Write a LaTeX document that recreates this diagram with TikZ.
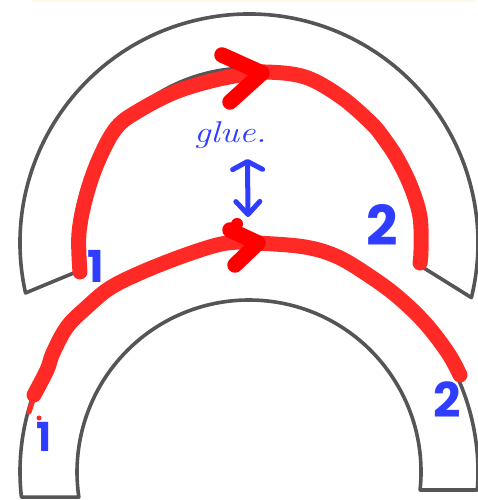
\documentclass[tikz,border=0pt]{standalone}
\usepackage{fontspec}
\usepackage{graphicx}
\usetikzlibrary{arrows.meta,calc}
\newfontfamily\numfont{Poppins}
\definecolor{archgray}{HTML}{555555}
\definecolor{inkred}{HTML}{FF2A25}
\definecolor{headred}{HTML}{FF0000}
\definecolor{inkblue}{HTML}{2E3DFF}
\definecolor{faintline}{HTML}{FFF9E6}
\begin{document}
\begin{tikzpicture}[x=1pt,y=1pt,
  arch/.style={draw=archgray,line width=3.6pt,line join=round},
  redink/.style={draw=inkred,line width=15pt,line cap=round,line join=round},
  redhead/.style={draw=headred,line width=15.5pt,line cap=round,line join=round},
  blueink/.style={draw=inkblue,line width=5pt,line cap=round,line join=round},
  numlabel/.style={text=inkblue,inner sep=0pt}]
\useasboundingbox (0,0) rectangle (478,500);
\draw[faintline,line width=2pt] (31,498.5) -- (475,498.5);

% top arch
\coordinate (c1) at (249,257);
\draw[arch] ($(c1)+(192.6:229)$) arc[start angle=192.6,end angle=-13.8,radius=229]
  -- ($(c1)+(-7.9:175)$) arc[start angle=-7.9,end angle=189.5,radius=175] -- cycle;

% bottom arch
\coordinate (c2) at (249,28);
\draw[arch] ($(c2)+(186.3:229)$) arc[start angle=186.3,end angle=-4.5,radius=229]
  -- ($(c2)+(-6:172)$) arc[start angle=-6,end angle=188.4,radius=172] -- cycle;

% top red path
\draw[redink] plot[smooth,tension=0.6] coordinates {(80,228) (79,267) (87,307) (100,343) (117,373) (140,390) (173,407) (207,418) (240,425) (265,428) (305,423) (341,403) (371,377) (385,360) (398,340) (411,313) (420,283) (421,250) (420,237)};
% bottom red path
\draw[inkred,line width=5pt,line cap=round] (33,100) -- (29,88);
\draw[redink] plot[smooth,tension=0.6] coordinates {(34,105) (47,130) (53,147) (67,173) (87,193) (110,212) (140,227) (180,243) (217,255) (240,258) (258,257) (305,253) (338,243) (371,223) (398,203) (425,177) (448,147) (460,125)};
\fill[inkred] (39,82) circle (2.5);

% red arrowheads
\coordinate (tipA) at (262,427);
\coordinate (armA1) at (222,445);
\coordinate (armA2) at (230,398);
\draw[redhead] (armA1) -- (tipA) -- (armA2);
\coordinate (tipB) at (258,257);
\coordinate (armB1) at (230,270);
\coordinate (armB2) at (235,235);
\draw[redhead] (armB1) -- (tipB) -- (armB2);
\fill[headred] (237,276) circle (6);

% glue label and double arrow
\node[text=inkblue,anchor=base west,inner sep=0pt,font=\fontsize{30}{32}\selectfont\itshape] (glue) at (194,357) {\scalebox{1.22}[1]{glue.}};
\coordinate (gtop) at (247.5,341);
\coordinate (gbot) at (248,283);
\draw[blueink,{Straight Barb[length=8pt,width=30pt,line cap=round,line join=round]}-{Straight Barb[length=13pt,width=24pt,line cap=round,line join=round]}] (gtop) -- (gbot);

% number labels
\node[numlabel,font=\numfont\bfseries\fontsize{44}{46}\selectfont] (one1) at (96,234) {1};
\node[numlabel,font=\numfont\bfseries\fontsize{40}{42}\selectfont] (one2) at (44,63) {1};
\node[numlabel,font=\numfont\bfseries\fontsize{55}{58}\selectfont] (two1) at (382,275) {2};
\node[numlabel,font=\numfont\bfseries\fontsize{48}{50}\selectfont] (two2) at (447,100) {2};
\end{tikzpicture}
\end{document}
